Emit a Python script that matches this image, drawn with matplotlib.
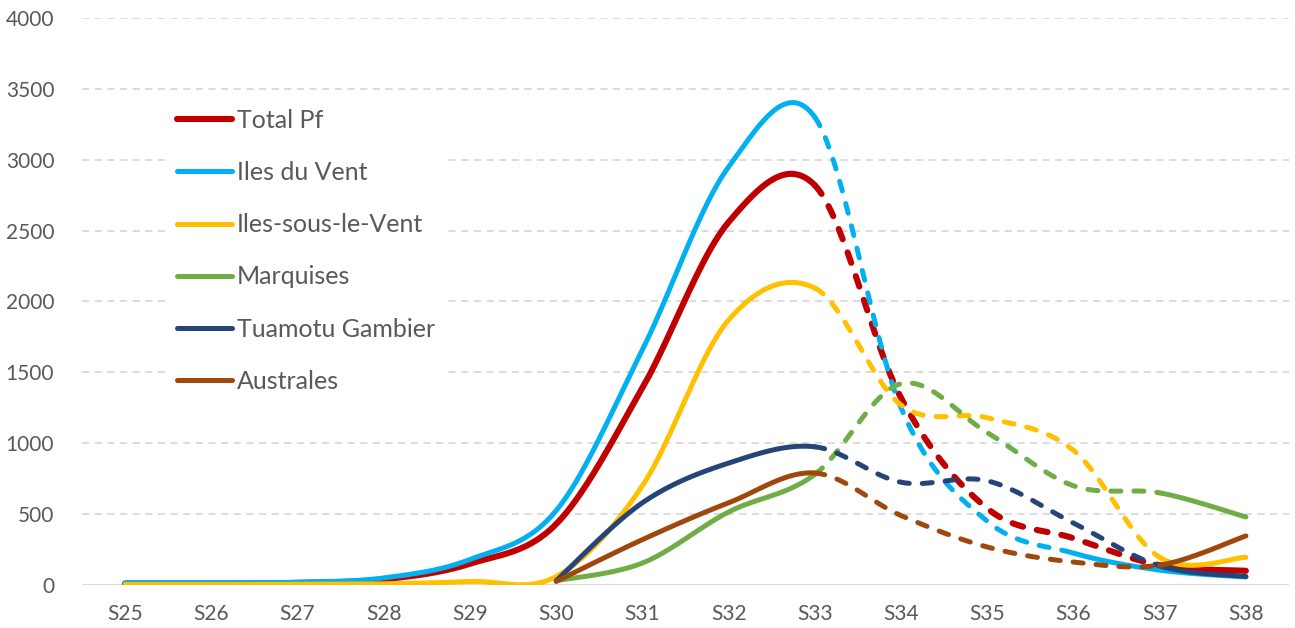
import numpy as np
import matplotlib.pyplot as plt

# weekly counts per archipelago
weeks = ["S25", "S26", "S27", "S28", "S29", "S30", "S31", "S32",
         "S33", "S34", "S35", "S36", "S37", "S38"]
nan = np.nan
total_pf = [10, 10, 15, 40, 150, 430, 1390, 2560, 2820, 1320, 540, 330, 140, 100]
iles_vent = [15, 15, 20, 50, 180, 525, 1660, 2950, 3300, 1250, 450, 225, 105, 56]
iles_sous_vent = [3, 3, 5, 8, 25, 60, 700, 1870, 2095, 1270, 1180, 950, 195, 195]
marquises = [nan, nan, nan, nan, nan, 30, 155, 515, 780, 1420, 1075, 700, 650, 480]
tuamotu = [nan, nan, nan, nan, nan, 30, 580, 860, 975, 725, 735, 437, 135, 60]
australes = [nan, nan, nan, nan, nan, 25, 320, 580, 790, 490, 268, 162, 140, 346]

# name, values, colour, line width, last dashed interval (exclusive), dash pattern
series = [
    ("Total Pf", total_pf, "#C00000", 4.4, 12, (1.8, 2.3)),
    ("Iles du Vent", iles_vent, "#00B0F0", 3.6, 11, (2.0, 2.6)),
    ("Iles-sous-le-Vent", iles_sous_vent, "#FFC000", 3.6, 12, (2.0, 2.6)),
    ("Marquises", marquises, "#70AD47", 3.6, 12, (2.0, 2.6)),
    ("Tuamotu Gambier", tuamotu, "#264478", 3.6, 12, (2.0, 2.6)),
    ("Australes", australes, "#9E480E", 3.6, 12, (2.0, 2.6)),
]
dash_from = 8  # dashed segments start at S33


def smooth_segments(y):
    """Excel-like smoothed line: one cubic bezier per interval."""
    y = np.asarray(y, float)
    idx = np.where(~np.isnan(y))[0]
    x = np.arange(len(y), dtype=float)
    segs = {}
    t = np.linspace(0, 1, 40)[:, None]
    for k in range(len(idx) - 1):
        i, j = idx[k], idx[k + 1]
        pi = np.array([x[i], y[i]])
        pj = np.array([x[j], y[j]])
        pp = np.array([x[idx[k - 1]], y[idx[k - 1]]]) if k > 0 else pi
        pn = np.array([x[idx[k + 2]], y[idx[k + 2]]]) if k + 2 < len(idx) else pj
        c1 = pi + (pj - pp) / 6
        c2 = pj - (pn - pi) / 6
        b = ((1 - t) ** 3) * pi + 3 * ((1 - t) ** 2) * t * c1 + 3 * (1 - t) * t ** 2 * c2 + t ** 3 * pj
        segs[i] = b
    return segs


plt.rcParams['font.family'] = ['Lato', 'DejaVu Sans']
fig = plt.figure(figsize=(12.95, 6.28), dpi=100)
ax = fig.add_axes([82 / 1295, 43 / 628, 1207 / 1295, 567 / 628])

handles = []
for name, vals, color, lw, dash_to, pattern in series:
    segs = smooth_segments(vals)
    runs = []
    for i in sorted(segs):
        dashed = dash_from <= i < dash_to
        if runs and runs[-1][0] == dashed:
            runs[-1][1].append(segs[i])
        else:
            runs.append((dashed, [segs[i]]))
    first = True
    for dashed, parts in runs:
        pts = np.vstack(parts)
        if dashed:
            ln, = ax.plot(pts[:, 0], pts[:, 1], color=color, lw=lw,
                          dashes=pattern, dash_capstyle='round')
        else:
            ln, = ax.plot(pts[:, 0], pts[:, 1], color=color, lw=lw,
                          solid_capstyle='round')
        if first:
            ln.set_label(name)
            handles.append(ln)
            first = False

ax.set_xlim(-0.5, len(weeks) - 0.5)
ax.set_ylim(0, 4000)
ax.set_xticks(range(len(weeks)))
ax.set_xticklabels(weeks)
ax.set_yticks(range(0, 4001, 500))
ax.tick_params(length=0, labelsize=15, labelcolor="#595959", pad=14)
ax.tick_params(axis='y', pad=20)
for sp in ax.spines.values():
    sp.set_visible(False)
ax.grid(axis='y', color="#D9D9D9", lw=1.3, ls=(0, (4, 3)))
ax.axhline(0, color="#D9D9D9", lw=1.5, zorder=0)
ax.set_axisbelow(True)

leg = ax.legend(handles=handles, loc='upper left',
                bbox_to_anchor=(168 / 1295, 1 - 100 / 628), bbox_transform=fig.transFigure,
                fontsize=18, handlelength=2.2, handletextpad=0.2, labelspacing=1.17,
                borderpad=0.35, borderaxespad=0, frameon=True, facecolor='white',
                edgecolor='none', framealpha=1, fancybox=False)
for txt in leg.get_texts():
    txt.set_color("#595959")

fig.savefig("out.png", dpi=100)
